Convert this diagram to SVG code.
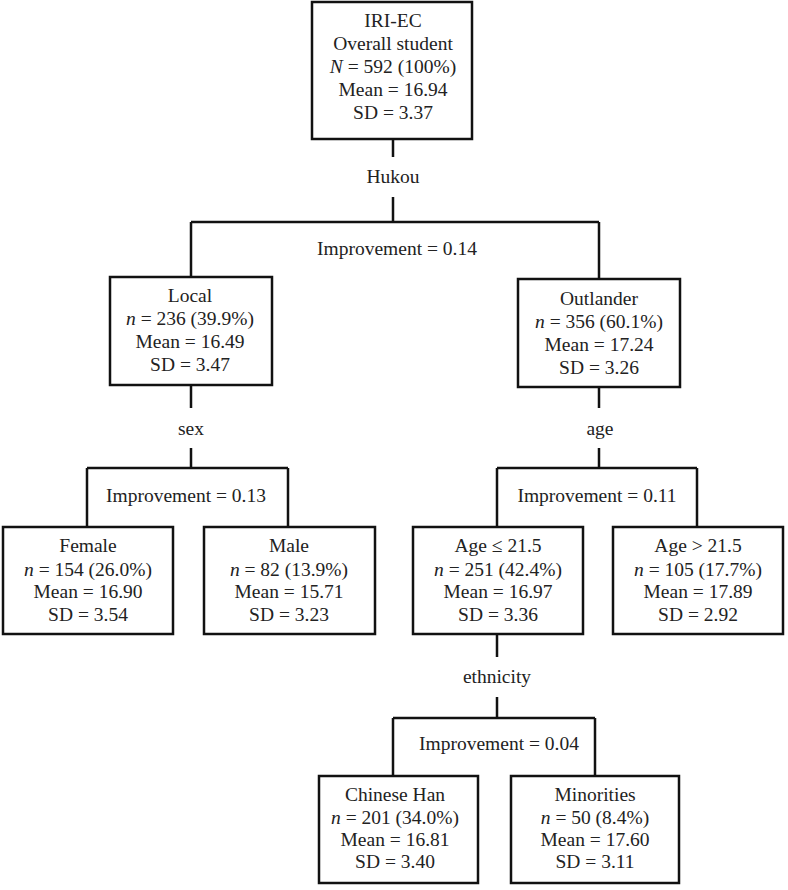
<svg xmlns="http://www.w3.org/2000/svg" width="788" height="890" viewBox="0 0 788 890">
<style>
text{font-family:"Liberation Serif","Times New Roman",serif;font-size:19.5px;fill:#222;text-anchor:middle}
.box{fill:#fff;stroke:#111;stroke-width:2.5}
.ln{stroke:#111;stroke-width:2.5;fill:none}
.i{font-style:italic}
</style>
<rect width="788" height="890" fill="#fff"/>
<g id="connectors">
<path class="ln" d="M393,139V157M393,197V222M191,222H599M191,222V277M599,222V279"/>
<path class="ln" d="M191,385V408M191,448V468M87,468H288M87,468V527M288,468V527"/>
<path class="ln" d="M599,387V408M599,448V468M497,468H697M497,468V527M697,468V527"/>
<path class="ln" d="M497,634V657M497,697V718M393,718H595M393,718V776M595,718V776"/>
<text x="393" y="183">Hukou</text>
<text x="397" y="255">Improvement = 0.14</text>
<text x="191" y="435">sex</text>
<text x="186" y="502">Improvement = 0.13</text>
<text x="600" y="435">age</text>
<text x="597" y="502">Improvement = 0.11</text>
<text x="497" y="683">ethnicity</text>
<text x="499" y="750">Improvement = 0.04</text>
</g>
<g id="root">
<rect class="box" x="312" y="2" width="160" height="137"/>
<text x="393" y="27">IRI-EC</text>
<text x="393" y="50">Overall student</text>
<text x="393" y="73"><tspan class="i">N</tspan> = 592 (100%)</text>
<text x="393" y="96">Mean = 16.94</text>
<text x="393" y="119">SD = 3.37</text>
</g>
<g id="local">
<rect class="box" x="110" y="277" width="162" height="108"/>
<text x="190" y="302">Local</text>
<text x="190" y="325"><tspan class="i">n</tspan> = 236 (39.9%)</text>
<text x="190" y="348">Mean = 16.49</text>
<text x="190" y="371">SD = 3.47</text>
</g>
<g id="outlander">
<rect class="box" x="518" y="279" width="162" height="108"/>
<text x="599" y="305">Outlander</text>
<text x="599" y="328"><tspan class="i">n</tspan> = 356 (60.1%)</text>
<text x="599" y="351">Mean = 17.24</text>
<text x="599" y="374">SD = 3.26</text>
</g>
<g id="female">
<rect class="box" x="3" y="527" width="170" height="107"/>
<text x="88" y="552">Female</text>
<text x="88" y="576"><tspan class="i">n</tspan> = 154 (26.0%)</text>
<text x="88" y="598">Mean = 16.90</text>
<text x="88" y="621">SD = 3.54</text>
</g>
<g id="male">
<rect class="box" x="204" y="527" width="171" height="107"/>
<text x="289" y="552">Male</text>
<text x="289" y="576"><tspan class="i">n</tspan> = 82 (13.9%)</text>
<text x="289" y="598">Mean = 15.71</text>
<text x="289" y="621">SD = 3.23</text>
</g>
<g id="age-le">
<rect class="box" x="413" y="527" width="170" height="107"/>
<text x="498" y="552">Age ≤ 21.5</text>
<text x="498" y="576"><tspan class="i">n</tspan> = 251 (42.4%)</text>
<text x="498" y="598">Mean = 16.97</text>
<text x="498" y="621">SD = 3.36</text>
</g>
<g id="age-gt">
<rect class="box" x="613" y="527" width="170" height="107"/>
<text x="698" y="552">Age &gt; 21.5</text>
<text x="698" y="576"><tspan class="i">n</tspan> = 105 (17.7%)</text>
<text x="698" y="598">Mean = 17.89</text>
<text x="698" y="621">SD = 2.92</text>
</g>
<g id="han">
<rect class="box" x="319" y="776" width="159" height="107"/>
<text x="395" y="801">Chinese Han</text>
<text x="395" y="824"><tspan class="i">n</tspan> = 201 (34.0%)</text>
<text x="395" y="846">Mean = 16.81</text>
<text x="395" y="868">SD = 3.40</text>
</g>
<g id="minorities">
<rect class="box" x="511" y="776" width="168" height="107"/>
<text x="595" y="801">Minorities</text>
<text x="595" y="824"><tspan class="i">n</tspan> = 50 (8.4%)</text>
<text x="595" y="846">Mean = 17.60</text>
<text x="595" y="868">SD = 3.11</text>
</g>
</svg>
